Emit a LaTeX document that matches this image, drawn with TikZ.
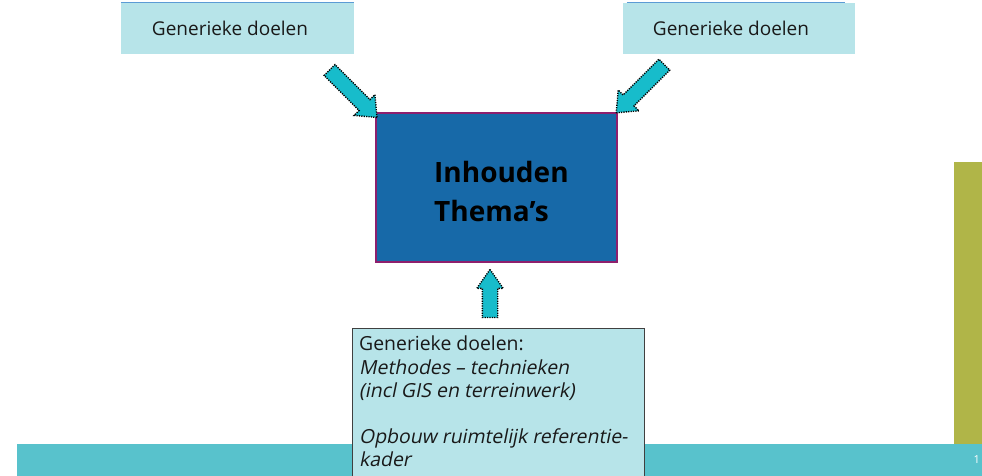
\documentclass[tikz,border=0pt]{standalone}
\usepackage{fontspec}
\setmainfont{Open Sans}
\newfontfamily\slantfont[FakeSlant=0.2]{Open Sans}
\usetikzlibrary{shapes.arrows}

\definecolor{paleteal}{HTML}{B7E4E9}
\definecolor{arrowteal}{HTML}{17BCCB}
\definecolor{bandteal}{HTML}{58C2CC}
\definecolor{olivebar}{HTML}{B0B548}
\definecolor{deepblue}{HTML}{1769A8}
\definecolor{plum}{HTML}{8E1F6D}
\definecolor{edgeblue}{HTML}{5B9BD5}

\newcommand\slanted[1]{{\slantfont #1}}

\begin{document}
\begin{tikzpicture}[x=1pt,y=-1pt,
  goalbox/.style={rectangle, fill=paleteal, inner sep=0pt},
  themebox/.style={rectangle, fill=deepblue, draw=plum, line width=1.2pt, inner sep=0pt},
  basebox/.style={rectangle, fill=paleteal, draw=black!75, line width=0.8pt, inner sep=0pt},
  goaltext/.style={inner sep=0pt, font=\fontsize{19}{23}\selectfont, text=black!90},
  themetext/.style={inner sep=0pt, align=left, font=\fontsize{28}{39}\selectfont\bfseries},
  basetext/.style={inner sep=0pt, align=left, font=\fontsize{19.4}{23.2}\selectfont, text=black!90},
  blockarrow/.style={single arrow, draw=black, line width=1.4pt, dash pattern=on 1.2pt off 1.2pt,
    fill=arrowteal, inner xsep=0pt, inner ysep=7pt, single arrow head extend=7pt,
    single arrow tip angle=80, single arrow head indent=0pt},
  topline/.style={draw=edgeblue, line width=0.8pt}]
\useasboundingbox (0,0) rectangle (982,476);
\clip (0,0) rectangle (982,476);

% footer band and side bar
\fill[bandteal] (17,444) rectangle (982,476);
\fill[olivebar] (954,162) rectangle (982,444);

% two goal boxes at the top
\node[goalbox, minimum width=233pt, minimum height=51pt] (gl) at (237.5,28.5) {};
\node[goalbox, minimum width=232pt, minimum height=51pt] (gr) at (739,28.5) {};
\draw[topline] (gl.north west) -- (gl.north east);
\draw[topline] ([xshift=4pt]gr.north west) -- ([xshift=-10pt]gr.north east);
\node[goaltext] (glt) at (230,28) {Generieke doelen};
\node[goaltext] (grt) at (731,28) {Generieke doelen};

% central theme box
\node[themebox, minimum width=241pt, minimum height=149pt] (th) at (496.5,187.5) {};
\node[themetext, anchor=west] (tht) at (434,191) {Inhouden\\Thema’s};

% lower box with generic goals
\node[basebox, minimum width=292pt, minimum height=152pt] (bb) at (498,404) {};
\node[basetext, anchor=north west] (bbt) at (359,336)
  {Generieke doelen:\\
   \slanted{Methodes – technieken}\\
   \slanted{(incl GIS en terreinwerk)}\\[23.2pt]
   \slanted{Opbouw ruimtelijk referentie-}\\
   \slanted{kader}};

% block arrows pointing into the theme box
\node[blockarrow, minimum height=67pt, rotate=-45] (al) at (350,90.5) {};
\node[blockarrow, minimum height=68pt, rotate=-135] (ar) at (643.5,85.5) {};
\node[blockarrow, minimum height=48pt, inner ysep=7pt, single arrow head extend=5.5pt,
      single arrow tip angle=70, rotate=90] (au) at (490,299) {};

% page number
\node[text=white, inner sep=0pt, anchor=east, font=\fontsize{11}{13}\selectfont] (pg) at (980,460) {1};
\end{tikzpicture}
\end{document}
